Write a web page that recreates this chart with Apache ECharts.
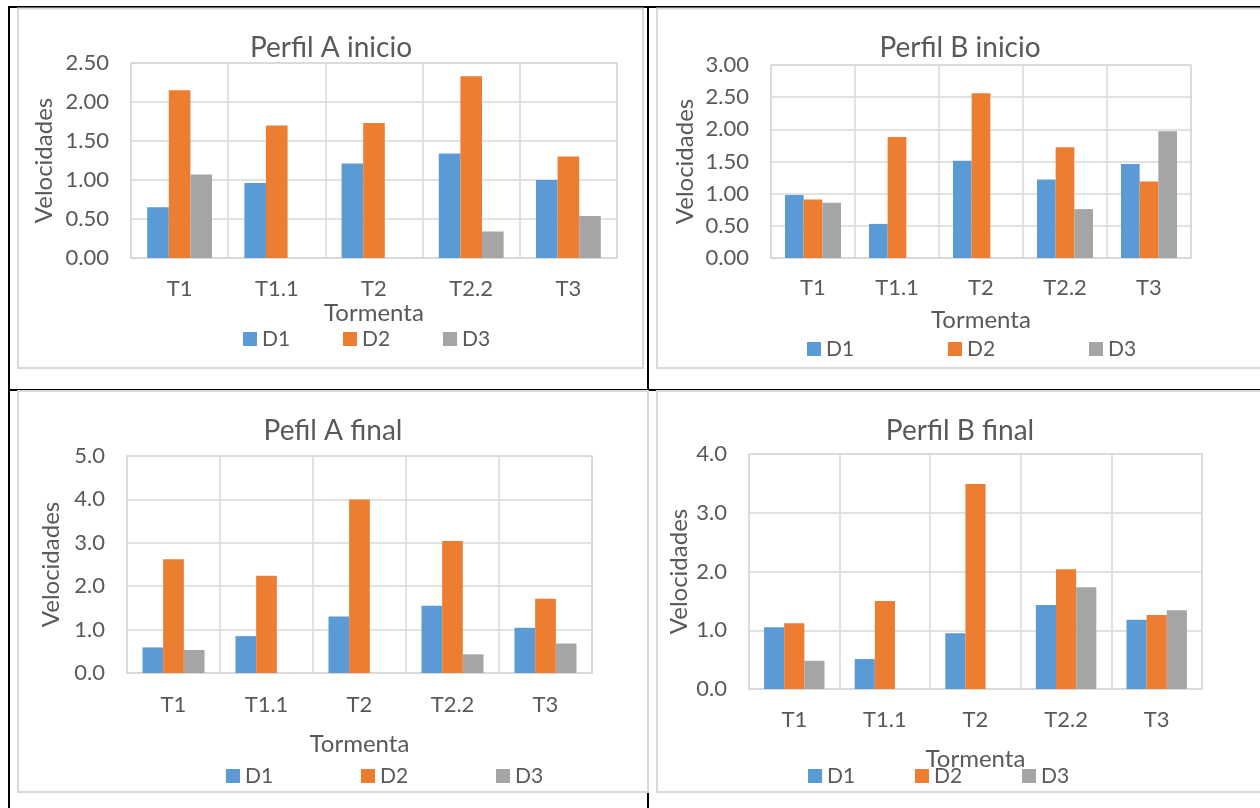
<!DOCTYPE html>
<html>
<head>
<meta charset="utf-8">
<title>Velocidades por tormenta</title>
<script src="https://cdn.jsdelivr.net/npm/echarts@6/dist/echarts.min.js"></script>
<style>
  html, body { margin: 0; padding: 0; background: #ffffff; }
  #chart { width: 1260px; height: 808px; }
</style>
</head>
<body>
<div id="chart"></div>
<script>
// Storm categories and depth series shared by all four panels
const categories = ['T1', 'T1.1', 'T2', 'T2.2', 'T3'];
const seriesNames = ['D1', 'D2', 'D3'];

// Perfil A inicio
const aInicioD1 = [0.65, 0.96, 1.21, 1.34, 1.00];
const aInicioD2 = [2.15, 1.70, 1.73, 2.33, 1.30];
const aInicioD3 = [1.07, 0, 0, 0.34, 0.54];

// Perfil B inicio
const bInicioD1 = [0.98, 0.53, 1.51, 1.22, 1.46];
const bInicioD2 = [0.91, 1.88, 2.56, 1.72, 1.19];
const bInicioD3 = [0.86, 0, 0, 0.76, 1.97];

// Pefil A final
const aFinalD1 = [0.59, 0.85, 1.30, 1.55, 1.04];
const aFinalD2 = [2.62, 2.24, 4.00, 3.04, 1.71];
const aFinalD3 = [0.53, 0, 0, 0.43, 0.68];

// Perfil B final
const bFinalD1 = [1.05, 0.51, 0.95, 1.43, 1.18];
const bFinalD2 = [1.12, 1.50, 3.49, 2.04, 1.26];
const bFinalD3 = [0.48, 0, 0, 1.73, 1.34];

// Panel titles and value-axis ranges
const titles = ['Perfil A inicio', 'Perfil B inicio', 'Pefil A final', 'Perfil B final'];
const yMax = [2.5, 3.0, 5.0, 4.0];
const yStep = [0.5, 0.5, 1.0, 1.0];
const yDecimals = [2, 2, 1, 1];
const xAxisTitle = 'Tormenta';
const yAxisTitle = 'Velocidades';

const panelData = [
  [aInicioD1, aInicioD2, aInicioD3],
  [bInicioD1, bInicioD2, bInicioD3],
  [aFinalD1, aFinalD2, aFinalD3],
  [bFinalD1, bFinalD2, bFinalD3]
];

// Page layout of each panel (plot box, title centre, axis-name gaps, legend row)
const layout = [
  { grid: { left: 131, top: 63, width: 486, height: 195 }, title: [331, 48],
    labelMargin: 20, xNameGap: 42, yNameGap: 75, legend: { left: 243, cy: 339, step: 100 } },
  { grid: { left: 771, top: 65, width: 420, height: 193 }, title: [960, 48],
    labelMargin: 19, xNameGap: 50, yNameGap: 74, legend: { left: 807, cy: 349, step: 141 } },
  { grid: { left: 127, top: 456, width: 465, height: 217 }, title: [333, 431],
    labelMargin: 21, xNameGap: 59, yNameGap: 64, legend: { left: 226, cy: 776, step: 135 } },
  { grid: { left: 749, top: 454, width: 453, height: 235 }, title: [960, 431],
    labelMargin: 20, xNameGap: 58, yNameGap: 58, legend: { left: 808, cy: 776, step: 107 } }
];

const colors = ['#5B9BD5', '#ED7D31', '#A5A5A5'];
const textColor = '#595959';
const gridColor = '#D9D9D9';
const font = 'Lato, "Open Sans", sans-serif';

const option = {
  animation: false,
  color: colors,
  title: [],
  legend: [],
  grid: [],
  xAxis: [],
  yAxis: [],
  series: [],
  graphic: []
};

layout.forEach((p, i) => {
  option.title.push({
    text: titles[i],
    left: p.title[0],
    top: p.title[1] - 14,
    textAlign: 'center',
    padding: 0,
    textStyle: { fontFamily: font, fontSize: 28, fontWeight: 'normal', color: textColor }
  });

  option.grid.push(Object.assign({
    show: true, borderColor: gridColor, borderWidth: 1.5, containLabel: false
  }, p.grid));

  option.xAxis.push({
    type: 'category',
    gridIndex: i,
    data: categories,
    name: xAxisTitle,
    nameLocation: 'middle',
    nameGap: p.xNameGap,
    nameTextStyle: { fontFamily: font, fontSize: 24, color: textColor },
    axisLine: { show: true, lineStyle: { color: gridColor, width: 1.5 } },
    axisTick: { show: false },
    axisLabel: { margin: p.labelMargin, fontFamily: font, fontSize: 22, color: textColor },
    splitLine: { show: true, lineStyle: { color: gridColor, width: 1.5 } }
  });

  option.yAxis.push({
    type: 'value',
    gridIndex: i,
    min: 0,
    max: yMax[i],
    interval: yStep[i],
    name: yAxisTitle,
    nameLocation: 'middle',
    nameGap: p.yNameGap,
    nameTextStyle: { fontFamily: font, fontSize: 24, color: textColor },
    axisLine: { show: false },
    axisTick: { show: false },
    axisLabel: {
      margin: 22, fontFamily: font, fontSize: 22, color: textColor,
      formatter: v => v.toFixed(yDecimals[i])
    },
    splitLine: { show: true, lineStyle: { color: gridColor, width: 1.5 } }
  });

  seriesNames.forEach((name, k) => {
    option.series.push({
      type: 'bar',
      name: name,
      xAxisIndex: i,
      yAxisIndex: i,
      data: panelData[i][k],
      barGap: '0%',
      barCategoryGap: '33.3%',
      itemStyle: { color: colors[k] }
    });
    option.legend.push({
      data: [name],
      left: p.legend.left + k * p.legend.step,
      top: p.legend.cy - 11,
      padding: 0,
      icon: 'rect',
      itemWidth: 14,
      itemHeight: 14,
      itemGap: 0,
      selectedMode: false,
      textStyle: { fontFamily: font, fontSize: 21, lineHeight: 22, color: textColor }
    });
  });
});

// Table frame behind the four chart boxes
const black = { fill: '#000000' };
option.graphic.push(
  { type: 'rect', z: -20, shape: { x: 8, y: 6, width: 1252, height: 2 }, style: black },
  { type: 'rect', z: -20, shape: { x: 8, y: 6, width: 2, height: 802 }, style: black },
  { type: 'rect', z: -20, shape: { x: 647, y: 6, width: 2, height: 802 }, style: black },
  { type: 'rect', z: -20, shape: { x: 8, y: 389, width: 1252, height: 2 }, style: black }
);
// Chart area boxes
const boxStyle = { fill: '#ffffff', stroke: gridColor, lineWidth: 2 };
[
  { x: 18, y: 8.5, width: 625, height: 359.5 },
  { x: 657, y: 8.5, width: 620, height: 359.5 },
  { x: 18, y: 391, width: 630, height: 401 },
  { x: 657, y: 391, width: 620, height: 401 }
].forEach(shape => {
  option.graphic.push({ type: 'rect', z: -10, shape: shape, style: boxStyle });
});

const chart = echarts.init(document.getElementById('chart'), null, { renderer: 'canvas' });
chart.setOption(option);
</script>
</body>
</html>
